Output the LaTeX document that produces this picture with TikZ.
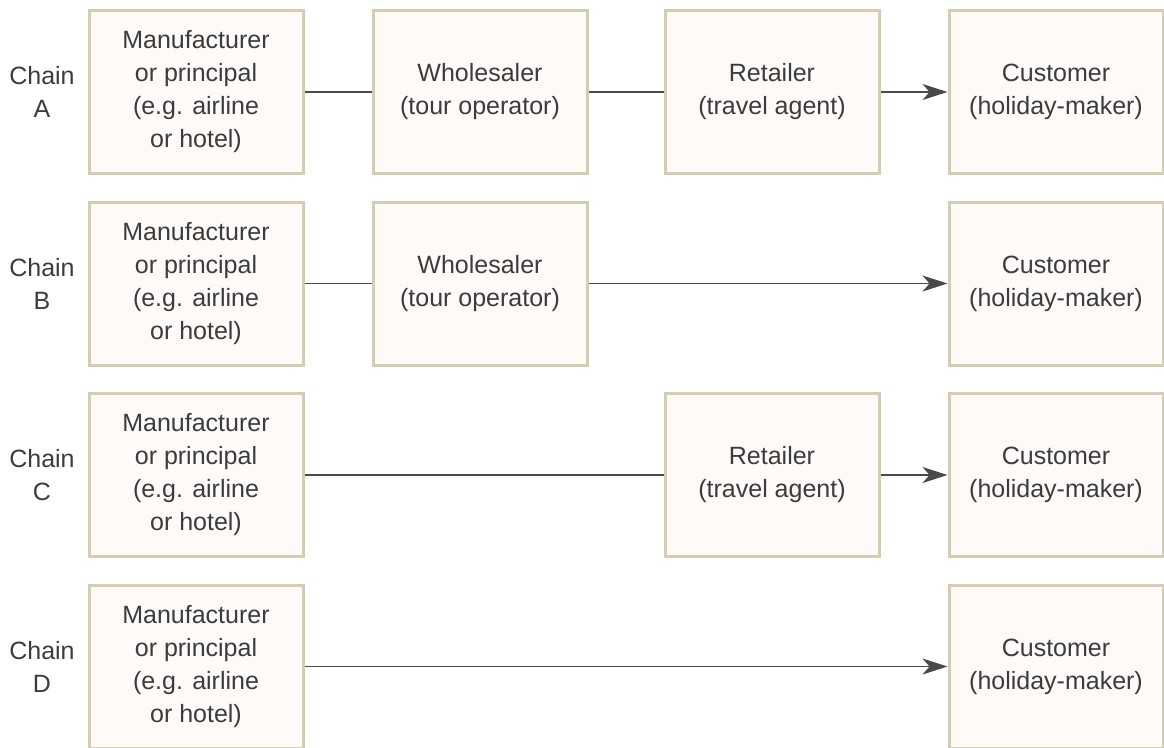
\documentclass[tikz,border=0pt]{standalone}
\usepackage{fontspec}
\setmainfont{Liberation Sans}
\usetikzlibrary{arrows.meta}
\definecolor{boxfill}{RGB}{253,250,247}
\definecolor{boxline}{RGB}{211,206,175}
\definecolor{ink}{RGB}{60,60,60}
\definecolor{wire}{RGB}{74,74,74}
\begin{document}
\begin{tikzpicture}[x=1pt,y=-1pt,
  stage/.style={draw=boxline, line width=3pt, fill=boxfill, minimum width=214pt,
    minimum height=163pt, inner sep=0pt, align=center, text=ink,
    font=\fontsize{25}{33}\selectfont},
  chainlbl/.style={align=center, text=ink, font=\fontsize{25}{33}\selectfont, inner sep=0pt},
  link/.style={draw=wire, line width=1.6pt},
  flow/.style={link, -{Stealth[length=25pt,width=16pt,inset=7pt]}}]
\useasboundingbox (0,0) rectangle (1164,747);
\begin{scope}
\clip (0,0) rectangle (1164,747);

% Chain A: principal -> wholesaler -> retailer -> customer
\node[chainlbl] (la) at (42,92) {Chain\\A};
\node[stage] (a1) at (196,92) {Manufacturer\\or principal\\(e.g. airline\\or hotel)};
\node[stage] (a2) at (480,92) {Wholesaler\\(tour operator)};
\node[stage] (a3) at (772,92) {Retailer\\(travel agent)};
\node[stage] (a4) at (1056,92) {Customer\\(holiday-maker)};
\draw[link] (a1) -- (a2);
\draw[link] (a2) -- (a3);
\draw[flow] (a3) -- (a4);

% Chain B: principal -> wholesaler -> customer
\node[chainlbl] (lb) at (42,283.5) {Chain\\B};
\node[stage] (b1) at (196,283.5) {Manufacturer\\or principal\\(e.g. airline\\or hotel)};
\node[stage] (b2) at (480,283.5) {Wholesaler\\(tour operator)};
\node[stage] (b4) at (1056,283.5) {Customer\\(holiday-maker)};
\draw[link] (b1) -- (b2);
\draw[flow] (b2) -- (b4);

% Chain C: principal -> retailer -> customer
\node[chainlbl] (lc) at (42,475) {Chain\\C};
\node[stage] (c1) at (196,475) {Manufacturer\\or principal\\(e.g. airline\\or hotel)};
\node[stage] (c3) at (772,475) {Retailer\\(travel agent)};
\node[stage] (c4) at (1056,475) {Customer\\(holiday-maker)};
\draw[link] (c1) -- (c3);
\draw[flow] (c3) -- (c4);

% Chain D: principal -> customer
\node[chainlbl] (ld) at (42,666.5) {Chain\\D};
\node[stage] (d1) at (196,666.5) {Manufacturer\\or principal\\(e.g. airline\\or hotel)};
\node[stage] (d4) at (1056,666.5) {Customer\\(holiday-maker)};
\draw[flow] (d1) -- (d4);
\end{scope}
\end{tikzpicture}
\end{document}
